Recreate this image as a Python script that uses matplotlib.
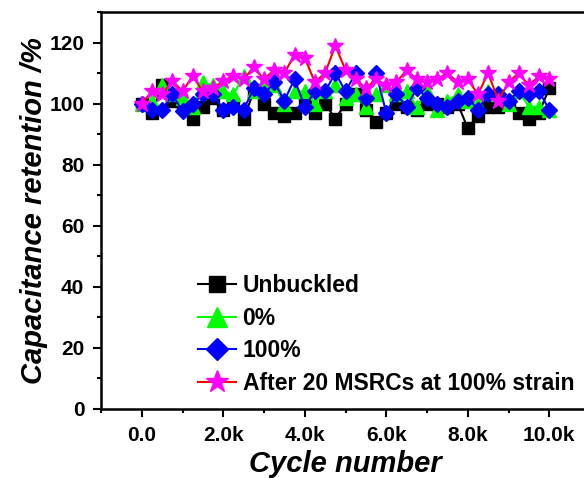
import matplotlib
matplotlib.use("Agg")
import matplotlib.pyplot as plt
import numpy as np
from matplotlib.ticker import MultipleLocator, FuncFormatter

plt.rcParams['font.family'] = ['Liberation Sans', 'DejaVu Sans']
plt.rcParams['font.weight'] = 'bold'

cycles = np.arange(0, 10001, 250)

unbuckled = [100, 97, 106, 101, 99, 95, 99, 102, 98, 100, 95, 104, 100, 97, 96, 97,
             101, 97, 100, 95, 100, 103, 98, 94, 97, 100, 99, 98, 100, 100, 99, 100,
             92, 96, 99, 99, 100, 97, 95, 97, 105]
strain0 = [100, 101, 106, 103, 102, 99, 107, 106, 104, 103, 109, 104, 107, 106, 100, 104,
           104, 100, 104, 106, 102, 103, 99, 103, 106, 103, 104, 99, 104, 98, 101, 103,
           101, 100, 104, 103, 100, 104, 99, 99, 98]
strain100 = [100, 98, 98, 103, 97.5, 100, 103, 103, 98, 99, 98, 105, 103, 107, 101, 108,
             99, 104, 104, 110, 104, 110, 102, 110, 97, 103, 99, 105, 102, 100, 99, 101,
             102, 98, 103, 103, 101, 104, 103, 104, 98]
after = [100, 104, 103, 107.5, 104, 109, 104, 105, 107.5, 109, 108, 112, 108, 111, 110, 116,
         115, 107, 110, 119, 111, 108, 105, 108, 106, 107, 111, 108, 107, 108, 110, 107,
         108, 103, 110, 101, 107, 110, 106, 109, 108]

labels = ['Unbuckled', '0%', '100%', 'After 20 MSRCs at 100% strain']

fig = plt.figure(figsize=(5.84, 4.78), dpi=100)
ax = fig.add_axes([101/584, 69/478, 489/584, 397/478])

ax.plot(cycles, unbuckled, '-', color='black', marker='s', ms=8, mfc='black', mec='black',
        lw=1.5, label=labels[0])
ax.plot(cycles, strain0, '-', color='#00ff00', marker='^', ms=10, mfc='#00ff00', mec='#00ff00',
        lw=1.5, label=labels[1])
ax.plot(cycles, strain100, '-', color='blue', marker='D', ms=8, mfc='blue', mec='blue',
        lw=1.5, label=labels[2])
ax.plot(cycles, after, '-', color='red', marker='*', ms=12, mfc='magenta', mec='magenta',
        lw=1.5, label=labels[3])

ax.set_xlim(-1000, 11000)
ax.set_ylim(0, 130)
ax.xaxis.set_major_locator(MultipleLocator(2000))
ax.xaxis.set_minor_locator(MultipleLocator(1000))
ax.yaxis.set_major_locator(MultipleLocator(20))
ax.yaxis.set_minor_locator(MultipleLocator(10))
ax.xaxis.set_major_formatter(FuncFormatter(lambda v, p: '0.0' if v == 0 else '%.1fk' % (v / 1000)))

ax.tick_params(which='major', direction='out', length=6, width=1.5, labelsize=15, pad=6)
ax.tick_params(which='minor', direction='out', length=3, width=1.5)
ax.tick_params(top=False, right=False)
for s in ax.spines.values():
    s.set_linewidth(1.8)

ax.set_xlabel('Cycle number', fontsize=21, fontstyle='italic', fontweight='bold', labelpad=4)
ax.set_ylabel('Capacitance retention /%', fontsize=21, fontstyle='italic', fontweight='bold',
              labelpad=1)

ax.legend(loc='upper left', bbox_to_anchor=(0.198, 0.34), frameon=False, fontsize=16.5,
          handlelength=1.65, handletextpad=0.3, labelspacing=0.42, markerscale=1.4,
          borderaxespad=0, borderpad=0)

fig.savefig('out.png', dpi=100)
